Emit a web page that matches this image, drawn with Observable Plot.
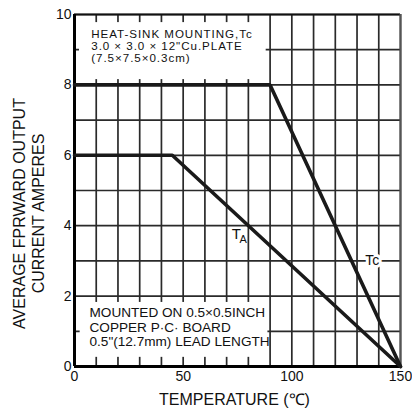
<!DOCTYPE html>
<html>
<head>
<meta charset="utf-8">
<script src="https://cdn.jsdelivr.net/npm/d3@7"></script>
<script src="https://cdn.jsdelivr.net/npm/@observablehq/plot@0.6"></script>
<style>
  html, body { margin: 0; padding: 0; background: #fff; }
  #chart { width: 412px; height: 412px; }
</style>
</head>
<body>
<div id="chart"></div>
<script>
// Derating curves (temperature °C -> average forward output current A)
const tcTemp = [0, 90, 150];
const tcAmps = [8, 8, 0];
const taTemp = [0, 45, 150];
const taAmps = [6, 6, 0];

// Axis ticks and grid
const xTicks = [0, 50, 100, 150];
const yTicks = [0, 2, 4, 6, 8, 10];
const xGrid = [0, 10, 20, 30, 40, 50, 60, 70, 80, 90, 100, 110, 120, 130, 140, 150];
const yGrid = [0, 1, 2, 3, 4, 5, 6, 7, 8, 9, 10];

// Text
const xTitle = "TEMPERATURE (\u2103)";
const yTitle = "AVERAGE FPRWARD OUTPUT\nCURRENT AMPERES";
const topNote = "HEAT-SINK MOUNTING,Tc\n3.0 \u00d7 3.0 \u00d7 12\"Cu.PLATE\n(7.5\u00d77.5\u00d70.3cm)";
const bottomNote = "MOUNTED ON 0.5\u00d70.5INCH\nCOPPER P\u00b7C\u00b7 BOARD\n0.5\"(12.7mm) LEAD LENGTH";

// Annotation placement (data units)
const noteBoxes = [
  {x1: 2.3, x2: 88.2, y1: 8.15, y2: 9.77},
  {x1: 2.6, x2: 89, y1: 0.26, y2: 1.82}
];

const tc = tcTemp.map((t, i) => ({t, a: tcAmps[i]}));
const ta = taTemp.map((t, i) => ({t, a: taAmps[i]}));

const font = "'Liberation Sans', Arial, Helvetica, sans-serif";

const chart = Plot.plot({
  width: 412,
  height: 412,
  marginLeft: 74,
  marginRight: 12,
  marginTop: 14,
  marginBottom: 46,
  x: {domain: [0, 150]},
  y: {domain: [0, 10]},
  style: {fontFamily: font, background: "#fff", color: "#111", overflow: "visible"},
  marks: [
    Plot.ruleX(xGrid, {stroke: "#2a2a2a", strokeWidth: 1.7}),
    Plot.ruleY(yGrid, {stroke: "#2a2a2a", strokeWidth: 1.7}),
    Plot.rect(noteBoxes, {x1: "x1", x2: "x2", y1: "y1", y2: "y2", fill: "#fff"}),
    Plot.ruleY([10], {stroke: "#111", strokeWidth: 2.2}),
    Plot.ruleX([150], {stroke: "#555", strokeWidth: 2}),
    Plot.ruleX([0], {stroke: "#000", strokeWidth: 3}),
    Plot.ruleY([0], {stroke: "#000", strokeWidth: 3}),
    Plot.line(tc, {x: "t", y: "a", stroke: "#1a1a1a", strokeWidth: 3.6, strokeLinejoin: "miter"}),
    Plot.line(ta, {x: "t", y: "a", stroke: "#1a1a1a", strokeWidth: 3.6, strokeLinejoin: "miter"}),
    Plot.axisX(xTicks, {tickSize: 0, tickPadding: 5, fontSize: 14, label: null, fill: "#111"}),
    Plot.axisY(yTicks, {tickSize: 0, tickPadding: 3, fontSize: 14, label: null, fill: "#111"}),
    Plot.text([xTitle], {frameAnchor: "bottom", text: d => d, dx: -3, dy: 33, textAnchor: "middle", lineAnchor: "middle", fontSize: 16, fill: "#111"}),
    Plot.text([yTitle], {frameAnchor: "left", text: d => d, rotate: -90, dx: -46, dy: 23, textAnchor: "middle", lineAnchor: "middle", lineHeight: 1.2, fontSize: 16, fill: "#111"}),
    Plot.text([topNote], {x: () => 7.7, y: () => 9.4, text: d => d, textAnchor: "start", lineAnchor: "top", lineHeight: 1.01, fontSize: 11.6, dy: -5.5, fill: "#111"}),
    Plot.text([bottomNote], {x: () => 6.9, y: () => 1.5, text: d => d, textAnchor: "start", lineAnchor: "top", lineHeight: 1.08, fontSize: 13.6, dy: -7, fill: "#111"}),
    Plot.text(["T"], {x: () => 74.5, y: () => 3.75, text: d => d, fontSize: 15, fill: "#111"}),
    Plot.text(["A"], {x: () => 77.6, y: () => 3.6, text: d => d, fontSize: 11, fill: "#111"}),
    Plot.text(["Tc"], {x: () => 137, y: () => 3.0, text: d => d, fontSize: 14, fill: "#111", stroke: "#fff", strokeWidth: 6, paintOrder: "stroke"})
  ]
});
// widen the heat-sink note slightly (its face is wider than Arial)
d3.select(chart).selectAll("text").filter(function () {
  return this.textContent.startsWith("HEAT-SINK");
}).style("letter-spacing", "0.95px");
document.getElementById("chart").appendChild(chart);
</script>
</body>
</html>
